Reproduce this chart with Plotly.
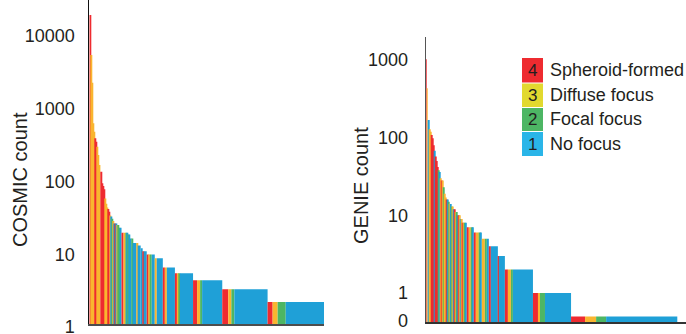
import plotly.graph_objects as go

# ---------------- data ----------------
# Each entry is one run of variants: COSMIC count, class (4..1) and number of variants
cosmic_count = [17700, 4990, 2070, 574, 440, 357, 320, 274, 210,
                153, 124, 86, 79, 71,
                53, 45, 40, 38, 35, 31,
                30, 28, 26,
                24, 24, 24,
                23, 23,
                21, 21,
                18, 18, 18, 18,
                17, 17,
                15, 15,
                13, 13,
                12,
                11,
                10, 10,
                9, 9, 9, 9,
                8, 8,
                6, 6, 6,
                5, 5, 5, 5,
                4, 4, 4, 4,
                3, 3, 3, 3,
                2, 2, 2, 2]
cosmic_class = [4, 3, 3, 3, 3, 4, 4, 3, 3,
                3, 4, 4, 4, 4,
                3, 3, 3, 4, 4, 3,
                1, 2, 3,
                1, 4, 1,
                3, 2,
                2, 1,
                4, 3, 2, 1,
                2, 1,
                1, 2,
                1, 3,
                1,
                1,
                4, 1,
                4, 3, 2, 1,
                3, 1,
                4, 3, 1,
                4, 3, 2, 1,
                4, 3, 2, 1,
                4, 3, 2, 1,
                4, 3, 2, 1]
cosmic_n = [1, 1, 1, 1, 1, 1, 1, 1, 1,
            2, 1, 1, 1, 1,
            1, 1, 1, 1, 1, 1,
            1, 1, 1,
            1, 1, 1,
            1, 1,
            1, 2,
            2, 2, 1, 1,
            1, 1,
            2, 1,
            4, 1,
            3,
            2,
            1, 3,
            2, 1, 2, 3,
            2, 6,
            2, 2, 8,
            2, 2, 1, 13,
            4, 3, 2, 20,
            6, 3, 3, 33,
            5, 5, 8, 38]

genie_count = [1020, 432, 169, 128, 119, 108, 98, 80, 68, 57, 50, 42, 38, 36, 30,
               28, 28, 23, 19, 17, 16, 16, 15, 14, 14, 13, 13, 12, 12, 11, 11, 10, 10, 10, 9, 9,
               8, 8, 8, 8,
               7, 7, 7, 7,
               6, 6, 6, 6,
               5, 5, 5,
               4, 4,
               3, 3,
               2, 2, 2, 2,
               1, 1, 1, 1,
               0, 0, 0, 0]
genie_class = [4, 3, 1, 3, 3, 4, 4, 4, 1, 4, 4, 4, 2, 1, 3,
               4, 3, 2, 3, 3, 4, 1, 2, 3, 1, 2, 3, 1, 4, 3, 2, 1, 4, 3, 1, 3,
               4, 3, 2, 1,
               4, 3, 2, 1,
               4, 3, 2, 1,
               3, 2, 1,
               4, 1,
               4, 1,
               4, 3, 2, 1,
               4, 3, 2, 1,
               4, 3, 2, 1]
genie_n = [1, 1, 1, 1, 1, 1, 1, 1, 1, 1, 1, 1, 1, 1, 1,
           1, 1, 1, 1, 1, 1, 1, 1, 1, 1, 1, 1, 1, 1, 1, 1, 1, 1, 1, 1, 1,
           1, 1, 1, 2,
           2, 2, 1, 2,
           2, 3, 1, 2,
           3, 2, 2,
           2, 7,
           1, 6,
           3, 3, 2, 20,
           5, 2, 5, 26,
           14, 11, 10, 71]

class_nums = [4, 3, 2, 1]
class_labels = ["Spheroid-formed", "Diffuse focus", "Focal focus", "No focus"]
cosmic_ticks = [1, 10, 100, 1000, 10000]
genie_ticks = ["0", "1", "10", "100", "1000"]
ZERO_FLOOR = 0.5   # zero GENIE counts are drawn at this floor on the log axis

# ---------------- styling ----------------
W, H = 686, 334
FONT = "Liberation Sans, Arial, sans-serif"
TXT = "#231F20"
bar_color = {4: "#EE2B30", 3: "#F9B52F", 2: "#4DB664", 1: "#1FA0D7"}
legend_color = {4: "#EE2B30", 3: "#E2D92F", 2: "#4DB664", 1: "#2AB5E8"}


def px(x):
    return x / W


def py(y):
    return 1 - y / H


def build(counts, classes, ns):
    xs, ys, ws, cs = [], [], [], []
    pos = 0
    for c, k, n in zip(counts, classes, ns):
        xs.append(pos)
        ws.append(n)
        ys.append(c if c > 0 else ZERO_FLOOR)
        cs.append(bar_color[k])
        pos += n
    return xs, ys, ws, cs, pos


fig = go.Figure()

lx, ly, lw, lc, ltot = build(cosmic_count, cosmic_class, cosmic_n)
rx, ry, rw, rc, rtot = build(genie_count, genie_class, genie_n)

fig.add_trace(go.Bar(x=lx, y=ly, width=lw, offset=0, marker=dict(color=lc, line=dict(width=0)),
                     xaxis="x", yaxis="y", showlegend=False, hoverinfo="skip"))
fig.add_trace(go.Bar(x=rx, y=ry, width=rw, offset=0, marker=dict(color=rc, line=dict(width=0)),
                     xaxis="x2", yaxis="y2", showlegend=False, hoverinfo="skip"))

# left panel geometry
L_X0, L_X1, L_YB, L_YT = 89.3, 324.0, 324.0, 0.0
L_DEC = 72.75
# right panel geometry
R_X0, R_BAR_END, R_YB, R_YT = 425.7, 677.3, 322.0, 37.0
R_DEC, R_ONE = 77.67, 293.0

r_scale = (R_BAR_END - R_X0) / rtot
r_range_end = (W - R_X0) / r_scale

fig.update_layout(
    width=W, height=H,
    margin=dict(l=0, r=0, t=0, b=0, autoexpand=False),
    paper_bgcolor="white", plot_bgcolor="white",
    font=dict(family=FONT, color=TXT, size=18),
    barmode="overlay",
    xaxis=dict(domain=[px(L_X0), px(L_X1)], range=[0, ltot], showticklabels=False,
               showgrid=False, zeroline=False, showline=True, linecolor="#4D4D4D",
               linewidth=1.5, ticks="", automargin=False),
    yaxis=dict(domain=[py(L_YB), py(L_YT)], type="log",
               range=[0, (L_YB - L_YT) / L_DEC],
               tickvals=cosmic_ticks, ticktext=[str(t) for t in cosmic_ticks],
               showgrid=False, zeroline=False, showline=True, linecolor="#111111",
               linewidth=1, ticks="", tickfont=dict(size=18, family=FONT, color=TXT),
               ticklabelstandoff=10, ticklabelshift=3, ticklabeloverflow="allow",
               automargin=False),
    xaxis2=dict(domain=[px(R_X0), 1.0], range=[0, r_range_end], showticklabels=False,
                showgrid=False, zeroline=False, showline=True, linecolor="#333333",
                linewidth=1.5, ticks="", anchor="y2", automargin=False),
    yaxis2=dict(domain=[py(R_YB), py(R_YT)], type="log", anchor="x2",
                range=[(R_ONE - R_YB) / R_DEC, (R_ONE - R_YT) / R_DEC],
                tickvals=[10 ** ((R_ONE - 321) / R_DEC), 1, 10, 100, 1000], ticktext=genie_ticks,
                showgrid=False, zeroline=False, showline=True, linecolor="#555555",
                linewidth=1, ticks="", tickfont=dict(size=18, family=FONT, color=TXT),
                ticklabelstandoff=13, ticklabeloverflow="allow", automargin=False),
)

ann = []
ann.append(dict(x=px(20), y=py(180), xref="paper", yref="paper", text="COSMIC count",
                textangle=-90, showarrow=False, font=dict(size=20, family=FONT, color=TXT),
                xanchor="center", yanchor="middle"))
ann.append(dict(x=px(361), y=py(186), xref="paper", yref="paper", text="GENIE count",
                textangle=-90, showarrow=False, font=dict(size=20, family=FONT, color=TXT),
                xanchor="center", yanchor="middle"))

# legend (drawn manually: numbered colour squares)
rows = [(58, 82.5), (83.5, 107), (108, 131), (132, 156)]
shapes = []
for (y0, y1), k, lab in zip(rows, class_nums, class_labels):
    shapes.append(dict(type="rect", xref="paper", yref="paper",
                       x0=px(522), x1=px(543), y0=py(y1), y1=py(y0),
                       fillcolor=legend_color[k], line=dict(width=0)))
    yc = (y0 + y1) / 2
    ann.append(dict(x=px(532.5), y=py(yc), xref="paper", yref="paper", text=str(k),
                    showarrow=False, font=dict(size=17, family=FONT, color=TXT),
                    xanchor="center", yanchor="middle"))
    ann.append(dict(x=px(548), y=py(yc), xref="paper", yref="paper", text=lab,
                    showarrow=False, font=dict(size=18, family=FONT, color=TXT),
                    xanchor="left", yanchor="middle"))

fig.update_layout(annotations=ann, shapes=shapes)
fig.write_html("out.html", config={"displayModeBar": False},
               post_script="document.body.style.margin='0';document.body.style.padding='0';")
